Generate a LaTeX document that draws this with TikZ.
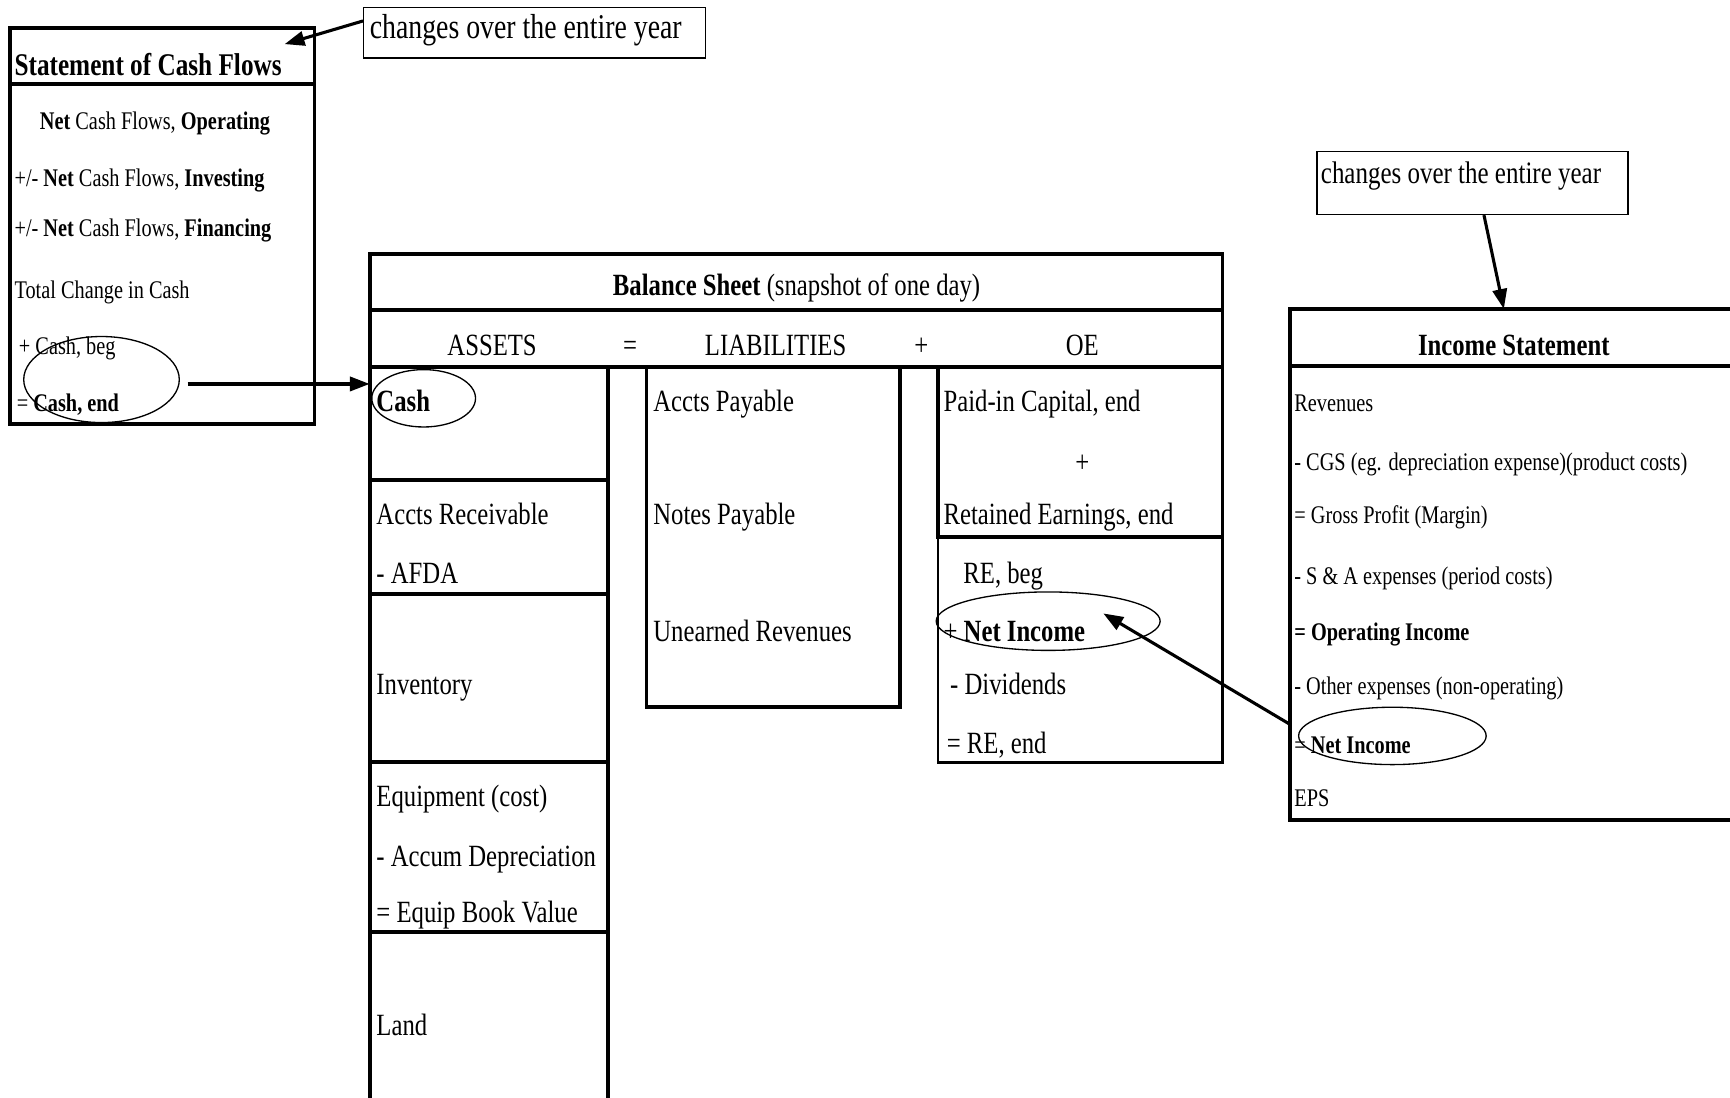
\documentclass[tikz,border=0pt]{standalone}
\usepackage{fontspec}
\setmainfont[FakeStretch=0.8]{Liberation Serif}
\usetikzlibrary{shapes.geometric,arrows.meta}
\newcommand\fsA{\fontsize{28}{32}\selectfont}
\newcommand\fsB{\fontsize{23}{26}\selectfont}
\newcommand\fsC{\fontsize{31.5}{34}\selectfont}
\tikzset{
  heavy/.style={draw, line width=3.5pt},
  medium/.style={draw, line width=2pt},
  thin/.style={draw, line width=1.2pt},
  txt/.style={anchor=base west, inner sep=0pt, font=\fsA},
  stxt/.style={anchor=base west, inner sep=0pt, font=\fsB},
  ctxt/.style={anchor=base, inner sep=0pt, font=\fsA},
  oval/.style={ellipse, draw, line width=1.2pt, inner sep=0pt},
  callout/.style={draw, line width=1.2pt, inner sep=0pt, anchor=north west},
  arr/.style={line width=2.8pt, -{Triangle[length=18pt,width=13pt]}}
}
\begin{document}
\begin{tikzpicture}[x=1pt,y=-1pt]
\useasboundingbox (0,0) rectangle (1568,995);

% ---------- Statement of Cash Flows ----------
\draw[heavy] (9,25) rectangle (285,384);
\draw[heavy] (9,76) -- (285,76);
\node[txt, font=\fontsize{28.6}{32}\selectfont\bfseries] (scft) at (13,68) {Statement of Cash Flows};
\node[stxt] (s1) at (36,117.6) {\textbf{Net} Cash Flows, \textbf{Operating}};
\node[stxt] (s2) at (13,168.6) {+/- \textbf{Net} Cash Flows, \textbf{Investing}};
\node[stxt] (s3) at (13,214.6) {+/- \textbf{Net} Cash Flows, \textbf{Financing}};
\node[stxt] (s4) at (13,270.6) {Total Change in Cash};
\node[stxt] (s5) at (17,321.6) {+ Cash, beg};
\node[stxt] (s6) at (15,372.6) {= \textbf{Cash, end}};
\node[oval, minimum width=141pt, minimum height=78pt] (ecash1) at (92,344) {};

% ---------- top callout ----------
\node[callout, minimum width=310pt, minimum height=46pt] (c1) at (329,6) {};
\node[anchor=base west, inner sep=0pt, font=\fsC] (c1t) at (335,35) {changes over the entire year};
\coordinate (c1a) at (329,19);
\coordinate (scfa) at (258,40);
\draw[arr] (c1a) -- (scfa);

% ---------- Balance Sheet ----------
\draw[heavy] (335,230) rectangle (1108,333);
\draw[heavy] (335,281) -- (1108,281);
\node[ctxt] (bst) at (722,267.4) {\textbf{Balance Sheet} (snapshot of one day)};
\node[ctxt] (h1) at (446,322) {ASSETS};
\node[ctxt] (h2) at (571,322) {=};
\node[ctxt] (h3) at (703,322) {LIABILITIES};
\node[ctxt] (h4) at (835,322) {+};
\node[ctxt] (h5) at (981,322) {OE};

% assets column
\draw[heavy] (335,333) -- (335,1005);
\draw[heavy] (551,333) -- (551,1005);
\foreach \yy in {435,538,691,845} \draw[heavy] (335,\yy) -- (551,\yy);
\node[txt] (a1) at (341,373.3) {\textbf{Cash}};
\node[txt] (a2) at (341,475.3) {Accts Receivable};
\node[txt] (a3) at (341,529.3) {- AFDA};
\node[txt] (a4) at (341,629.3) {Inventory};
\node[txt] (a5) at (341,731.3) {Equipment (cost)};
\node[txt] (a6) at (341,785.3) {- Accum Depreciation};
\node[txt] (a7) at (341,836.3) {= Equip Book Value};
\node[txt] (a8) at (341,938.3) {Land};
\node[oval, minimum width=94pt, minimum height=52pt] (ecash2) at (384,361) {};
\coordinate (cashin) at (335,348);
\path (ecash1.east) ++(7,4) coordinate (ecash1r);
\draw[arr] (ecash1r) -- (cashin);

% liabilities column
\draw[heavy] (586,333) rectangle (816,641);
\node[txt] (l1) at (592,373.3) {Accts Payable};
\node[txt] (l2) at (592,475.3) {Notes Payable};
\node[txt] (l3) at (592,581.3) {Unearned Revenues};

% owners' equity column
\draw[heavy] (850,333) rectangle (1108,487);
\draw[medium] (850,487) rectangle (1108,691);
\node[txt] (o1) at (855,373.3) {Paid-in Capital, end};
\node[ctxt] (o2) at (981,428.3) {+};
\node[txt] (o3) at (855,475.3) {Retained Earnings, end};
\node[txt] (o4) at (873,529.3) {RE, beg};
\node[txt] (o5) at (855,581.3) {+ \textbf{Net Income}};
\node[txt] (o6) at (861,629.3) {- Dividends};
\node[txt] (o7) at (858,683.3) {= RE, end};
\node[oval, minimum width=203pt, minimum height=53pt] (eni1) at (950,563) {};

% ---------- Income Statement ----------
\draw[heavy] (1575,280) -- (1169,280) -- (1169,743) -- (1575,743);
\draw[heavy] (1169,332) -- (1575,332);
\node[ctxt, font=\fsA\bfseries] (ist) at (1372,322.3) {Income Statement};
\node[stxt] (i1) at (1173,372.6) {Revenues};
\node[stxt] (i2) at (1173,426.6) {- CGS (eg. depreciation expense)(product costs)};
\node[stxt] (i3) at (1173,474.6) {= Gross Profit (Margin)};
\node[stxt] (i4) at (1173,529.6) {- S \& A expenses (period costs)};
\node[stxt] (i5) at (1173,580.6) {\textbf{= Operating Income}};
\node[stxt] (i6) at (1173,629.6) {- Other expenses (non-operating)};
\node[stxt] (i7) at (1173,682.6) {= \textbf{Net Income}};
\node[stxt] (i8) at (1173,730.6) {EPS};
\node[oval, minimum width=170pt, minimum height=52pt] (eni2) at (1262,667) {};
\coordinate (isleft) at (1170,657);
\coordinate (nitip) at (1000,556);
\draw[arr] (isleft) -- (nitip);

% ---------- right callout ----------
\node[callout, minimum width=282pt, minimum height=57pt] (c2) at (1193,137) {};
\node[anchor=base west, inner sep=0pt, font=\fontsize{28.3}{32}\selectfont] (c2t) at (1197,166) {changes over the entire year};
\coordinate (c2a) at (1345,195);
\coordinate (istop) at (1363,280);
\draw[arr] (c2a) -- (istop);
\end{tikzpicture}
\end{document}
